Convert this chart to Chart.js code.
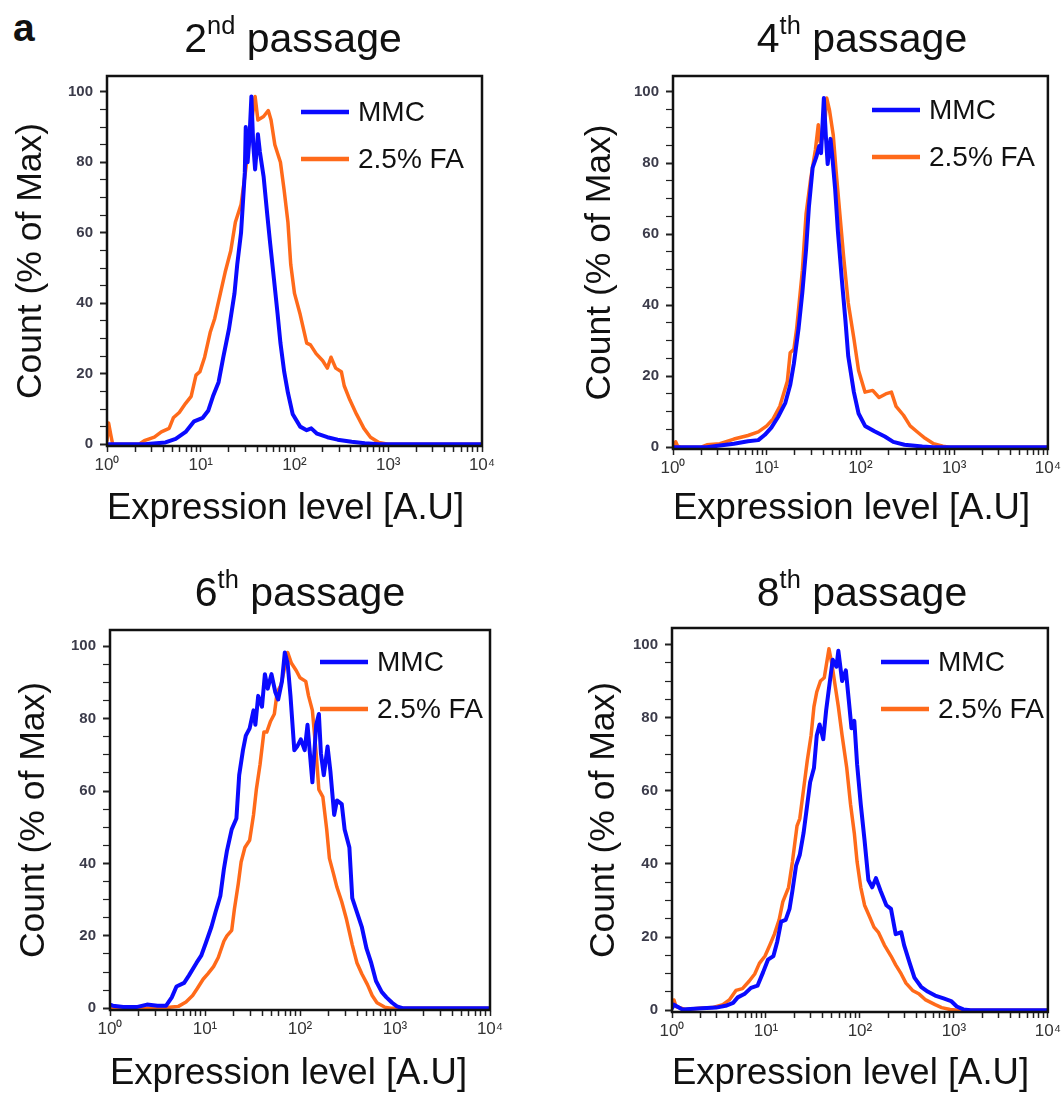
<!DOCTYPE html>
<html>
<head>
<meta charset="utf-8">
<script src="https://cdn.jsdelivr.net/npm/chart.js@4.4.0/dist/chart.umd.min.js"></script>
<style>
  body { margin: 0; background: #fff; font-family: "Liberation Sans", Arial, sans-serif; }
  #page { position: relative; width: 1064px; height: 1109px; overflow: hidden; background: #fff; }
  .panel { position: absolute; }
  .ttl { position: absolute; width: 400px; text-align: center; font-size: 41px; line-height: 41px; color: #111; white-space: nowrap; }
  .ttl sup { font-size: 0.62em; vertical-align: baseline; position: relative; top: -0.72em; }
  #tag { position: absolute; left: 13px; top: 8px; font-size: 39px; line-height: 39px; font-weight: bold; color: #111; }
</style>
</head>
<body>
<div id="page">
  <div id="tag">a</div>
</div>
<script>
// series labels and axis ticks
const seriesLabels = ["MMC", "2.5% FA"];
const decadeValues = [1, 10, 100, 1000, 10000];
const xTickLabels = ["10\u2070", "10\u00B9", "10\u00B2", "10\u00B3", "10\u2074"];
const yMajorValues = [0, 20, 40, 60, 80, 100];
const yTickLabels = ["0", "20", "40", "60", "80", "100"];

// [expression level, count % of max]
const mmc2nd = [[1,0],[2.5,0],[4.2,0.5],[5.4,1.5],[6.9,3.5],[8.5,6.5],[10.5,7.5],[12,9.5],[13.5,13.6],[15.5,17.6],[17.4,24.7],[20,32.7],[22.9,42.8],[24.5,51],[26.9,60],[29.5,77],[30.2,90],[31.6,80],[33.1,87],[34.7,98.7],[36.3,85],[38,78],[40.7,88],[42.7,83],[46.8,76],[51.3,65],[55,57],[60.3,47],[66,37],[70.8,28.7],[77.6,20.6],[85.1,14.6],[95.5,8.6],[115,5],[135,4],[151,4.5],[174,3],[224,2],[288,1.3],[407,0.7],[562,0.3],[794,0],[10000,0]];
const fa2nd = [[1,1],[1.04,6],[1.1,2.5],[1.15,0],[2.2,0],[2.5,1],[3.2,2],[3.8,3.5],[4.6,4.5],[5.1,7.5],[5.9,9],[6.9,11.6],[7.9,13.6],[8.9,19.6],[9.8,20.6],[11,24.7],[12.6,31.7],[14.1,35.7],[16.2,42.8],[18.2,48.8],[20.9,54.9],[23.4,63],[26.9,68],[30.2,78],[34.7,91.2],[38,98.7],[40.7,92],[46.8,93],[52.5,94.7],[56.2,92],[61.7,85],[70.8,80],[77.6,72],[85.1,63],[91.2,51],[100,42.8],[115,36.8],[135,28.7],[148,28.2],[170,25.7],[200,23.7],[224,21.6],[245,24.7],[275,21.6],[316,20.6],[339,16.6],[389,12.6],[457,8.6],[550,4.5],[646,2],[794,0.5],[1000,0],[10000,0]];

const mmc4th = [[1,0],[2.3,0],[3.16,0.5],[4.47,1],[6.31,1.7],[8.13,2],[9.55,3.5],[11.2,5.5],[13.2,8.5],[15.8,12.5],[17.8,17.5],[19.5,23.6],[21.9,33.6],[24,43.6],[26.3,55.7],[28.2,67.7],[30.9,78.7],[33.9,81.8],[36.3,84.8],[38,82.8],[40.7,98.3],[42.7,87.8],[44.7,79.7],[47.9,86.8],[50.1,81.8],[53.7,72.7],[57.5,60.7],[63.1,47.6],[69.2,35.6],[74.1,25.6],[85.1,15.5],[95.5,9.5],[112,6],[141,4.5],[182,3],[224,1.5],[295,0.7],[457,0.2],[600,0],[10000,0]];
const fa4th = [[1,0],[1.07,1.5],[1.12,0.3],[1.2,0],[2,0],[2.3,0.7],[3.16,1],[4.47,2.3],[6.31,3.3],[8.13,4.3],[10,6],[11.7,8],[13.8,11.5],[16.6,18.6],[17.8,26.6],[19.5,27.6],[20.9,33.6],[24,49.7],[26.3,65.7],[29.5,75.7],[33.1,83.8],[35.5,90.8],[37.2,85.8],[40.7,87.8],[43.7,98.3],[46.8,94.8],[51.3,87.8],[55,77.7],[60.3,65.7],[66.1,53.7],[74.1,40.6],[85.1,30.6],[95.5,21.6],[112,15.5],[135,16],[158,14],[186,15],[214,15.5],[240,11.5],[288,9],[339,6],[417,4],[490,2.5],[603,1],[759,0.3],[900,0],[10000,0]];

const mmc6th = [[1,1],[1.07,0.7],[1.38,0.3],[1.9,0.3],[2.45,1],[3.16,0.7],[3.9,0.7],[4.47,3],[5.01,6],[6.03,7],[6.76,9],[8.13,12.5],[9.12,14.5],[10.2,18],[11.7,22.5],[12.9,26.5],[14.5,31],[15.8,38.4],[17,43.4],[19.1,49.4],[21.4,52.4],[22.9,64.4],[25.1,71.3],[26.9,75.3],[29.5,77.3],[32.4,82.3],[33.9,78.3],[36.3,86.3],[39.8,83.3],[42.7,92.3],[45.7,88.3],[50.1,92.3],[55,87.3],[58.9,85.3],[64.6,90.3],[69.2,98.3],[74.1,95.3],[79.4,86.3],[87.1,71.3],[93.3,72.3],[102,74.3],[112,71.3],[120,78.3],[129,68.4],[135,62.4],[148,78.3],[158,81.3],[166,70.4],[178,64.4],[195,72.3],[209,65.4],[229,53.4],[245,57.4],[275,56.4],[295,49.4],[331,44.4],[355,30.4],[398,26.5],[447,22.5],[501,16.5],[562,12.5],[631,7.5],[724,4.5],[813,3],[933,1.5],[1047,0.5],[1200,0],[10000,0]];
const fa6th = [[1,0],[3.5,0],[4.47,0.3],[5.25,0.5],[6.31,1.7],[7.41,3.5],[8.32,5.5],[9.55,8],[10.7,9.5],[12.3,11.5],[13.8,14],[15.8,18.5],[17,20],[19.1,21.5],[20.4,27.4],[22.4,34.4],[24,40.4],[26.3,44.4],[29.5,46.4],[32.4,53.4],[34.7,60.4],[38,67.4],[41.7,76.3],[44.7,76.3],[49,79.3],[53.7,81.3],[57.5,87.3],[63.1,89.3],[69.2,94.3],[74.1,98.3],[81.3,95.3],[91.2,93.3],[100,91.3],[115,90.3],[123,86.3],[135,82.3],[148,70.4],[158,60.4],[174,58.4],[191,49.4],[204,41.4],[224,37.4],[245,33.4],[275,29.4],[309,24.5],[355,17.5],[398,12.5],[447,9.5],[513,6.5],[575,3.5],[646,1.5],[776,0.3],[900,0],[10000,0]];

const mmc8th = [[1,0.5],[1.05,1.5],[1.29,0.2],[2.09,0.5],[2.95,0.7],[3.72,1.2],[4.47,2],[5.01,3.5],[5.89,4.4],[6.92,6.1],[8.13,6.7],[9.33,10.4],[10.5,13.8],[12,14.8],[13.2,18.8],[14.5,24.2],[16.2,24.7],[17.8,27.7],[19.1,32.6],[20.9,39.5],[22.9,42.5],[25.1,48.4],[26.9,54.3],[29.5,62.3],[32.4,66.2],[34.7,75.1],[37.2,78.1],[40.7,74.1],[43.7,82],[47.9,90],[51.3,95.8],[56.2,93.9],[58.9,98.3],[64.6,90],[70.8,92.9],[75.9,85],[81.3,77.1],[87.1,79.1],[93.3,67.2],[102,56.3],[112,46.4],[123,35.6],[135,33.6],[148,36.1],[166,32.6],[191,28.7],[214,27.7],[240,20.8],[275,21.3],[295,17.8],[339,12.8],[380,8.9],[447,6.4],[525,5.1],[631,4],[776,3.2],[933,2.5],[1072,1],[1259,0.2],[1500,0],[10000,0]];
const fa8th = [[1,1],[1.05,2.8],[1.1,1],[1.38,0.2],[1.95,0.5],[2.69,0.7],[3.47,1.5],[4.07,2.8],[4.79,5.4],[5.62,5.9],[6.61,7.9],[7.59,9.9],[8.51,12.8],[9.77,14.8],[11,17.8],[12.3,20.8],[13.8,24.7],[15.1,29.6],[17.4,33.6],[19.1,40.5],[21.4,50.4],[22.9,52.4],[25.1,60.3],[27.5,68.2],[30.2,75.1],[32.4,83],[34.7,87],[38,90],[41.7,90.9],[46.8,98.8],[50.1,94.9],[55,88],[58.9,83],[64.6,75.1],[72.4,66.2],[79.4,56.3],[87.1,48.4],[93.3,40.5],[102,33.6],[112,28.7],[126,25.7],[141,22.7],[158,21.2],[182,17.8],[214,14.8],[240,12.4],[275,9.9],[309,7.4],[363,5.4],[427,4.4],[501,2.8],[631,1.5],[741,0.7],[912,0.2],[1100,0],[10000,0]];

const colMMC = "#0a0aff";
const colFA = "#ff6a1a";

// page layout for the four panels (canvas box, padding, axis sizes)
const panels = [
  { num: "2", sup: "nd", mmc: mmc2nd, fa: fa2nd, left: 0,   top: 60,  width: 530, height: 480, padTop: 13, padRight: 48, yWidth: 107, xHeight: 94, titleCx: 293, titleBase: 53,  legX: 194, legY: 36 },
  { num: "4", sup: "th", mmc: mmc4th, fa: fa4th, left: 569, top: 60,  width: 495, height: 480, padTop: 15, padRight: 16, yWidth: 104, xHeight: 91, titleCx: 862, titleBase: 53,  legX: 199, legY: 34 },
  { num: "6", sup: "th", mmc: mmc6th, fa: fa6th, left: 3,   top: 600, width: 527, height: 505, padTop: 30, padRight: 40, yWidth: 107, xHeight: 95, titleCx: 300, titleBase: 607, legX: 210, legY: 32 },
  { num: "8", sup: "th", mmc: mmc8th, fa: fa8th, left: 573, top: 600, width: 491, height: 505, padTop: 28, padRight: 14, yWidth: 99,  xHeight: 93, titleCx: 862, titleBase: 607, legX: 209, legY: 34 }
];

Chart.defaults.font.family = '"Liberation Sans", Arial, sans-serif';
Chart.defaults.animation = false;

// frame around the plot area and the legend inside it
const framePlugin = {
  id: "frameAndLegend",
  afterDatasetsDraw(chart, args, opts) {
    const { ctx, chartArea: a } = chart;
    ctx.save();
    ctx.strokeStyle = "#111";
    ctx.lineWidth = 2.5;
    ctx.strokeRect(a.left, a.top, a.right - a.left, a.bottom - a.top);
    chart.data.datasets.forEach((ds, i) => {
      const x = a.left + opts.x;
      const y = a.top + opts.y + i * 47;
      ctx.strokeStyle = ds.borderColor;
      ctx.lineWidth = 4.5;
      ctx.beginPath();
      ctx.moveTo(x, y);
      ctx.lineTo(x + 48, y);
      ctx.stroke();
      ctx.fillStyle = "#111";
      ctx.font = '28px "Liberation Sans", Arial, sans-serif';
      ctx.textBaseline = "middle";
      ctx.textAlign = "left";
      ctx.fillText(ds.label, x + 57, y + 1);
    });
    ctx.restore();
  }
};

const page = document.getElementById("page");

panels.forEach((p) => {
  const wrap = document.createElement("div");
  wrap.className = "panel";
  wrap.style.left = p.left + "px";
  wrap.style.top = p.top + "px";
  wrap.style.width = p.width + "px";
  wrap.style.height = p.height + "px";
  const canvas = document.createElement("canvas");
  wrap.appendChild(canvas);
  page.appendChild(wrap);

  const ttl = document.createElement("div");
  ttl.className = "ttl";
  ttl.style.left = (p.titleCx - 200) + "px";
  ttl.style.top = (p.titleBase - 35) + "px";
  ttl.innerHTML = p.num + "<sup>" + p.sup + "</sup> passage";
  page.appendChild(ttl);

  new Chart(canvas, {
    type: "line",
    data: {
      datasets: [
        { label: seriesLabels[0], data: p.mmc, borderColor: colMMC, borderWidth: 4 },
        { label: seriesLabels[1], data: p.fa, borderColor: colFA, borderWidth: 3.5 }
      ]
    },
    options: {
      responsive: true,
      maintainAspectRatio: false,
      devicePixelRatio: 1,
      layout: { padding: { top: p.padTop, right: p.padRight, left: 0, bottom: 0 } },
      elements: {
        point: { radius: 0 },
        line: { tension: 0, borderJoinStyle: "round", borderCapStyle: "round" }
      },
      plugins: {
        legend: { display: false },
        tooltip: { enabled: false },
        frameAndLegend: { x: p.legX, y: p.legY }
      },
      scales: {
        x: {
          type: "logarithmic",
          min: 1,
          max: 10000,
          afterBuildTicks: (scale) => {
            const ticks = [];
            decadeValues.forEach((d, i) => {
              ticks.push({ value: d });
              if (i < decadeValues.length - 1) {
                for (let k = 2; k <= 9; k++) ticks.push({ value: k * d });
              }
            });
            scale.ticks = ticks;
          },
          afterFit: (scale) => { scale.height = p.xHeight; },
          ticks: {
            autoSkip: false,
            maxRotation: 0,
            padding: 3,
            color: "#333",
            font: { size: 17 },
            callback: (v) => {
              const i = decadeValues.indexOf(v);
              return i >= 0 ? xTickLabels[i] : "";
            }
          },
          grid: { drawOnChartArea: false, tickLength: 6, tickColor: "#222", tickWidth: 1.5 },
          border: { color: "#111", width: 2 },
          title: {
            display: true,
            text: "Expression level [A.U]",
            align: "start",
            color: "#111",
            font: { size: 36.5 },
            padding: { top: 0, bottom: 9 }
          }
        },
        y: {
          min: -0.5,
          max: 104.5,
          afterBuildTicks: (scale) => {
            const ticks = [];
            for (let v = 0; v <= 100; v += 5) ticks.push({ value: v });
            scale.ticks = ticks;
          },
          afterFit: (scale) => { scale.width = p.yWidth; },
          ticks: {
            autoSkip: false,
            padding: 7,
            color: "#3b3b4a",
            font: { size: 15, weight: "bold" },
            callback: (v) => {
              const i = yMajorValues.indexOf(v);
              return i >= 0 ? yTickLabels[i] : "";
            }
          },
          grid: {
            drawOnChartArea: false,
            tickLength: 7,
            tickColor: "#222",
            tickWidth: (ctx) => (ctx.tick && yMajorValues.indexOf(ctx.tick.value) >= 0 ? 2 : 1.2)
          },
          border: { color: "#111", width: 2 },
          title: {
            display: true,
            text: "Count (% of Max)",
            color: "#111",
            font: { size: 35.5 },
            padding: { top: 10, bottom: 0 }
          }
        }
      }
    },
    plugins: [framePlugin]
  });
});
</script>
</body>
</html>
